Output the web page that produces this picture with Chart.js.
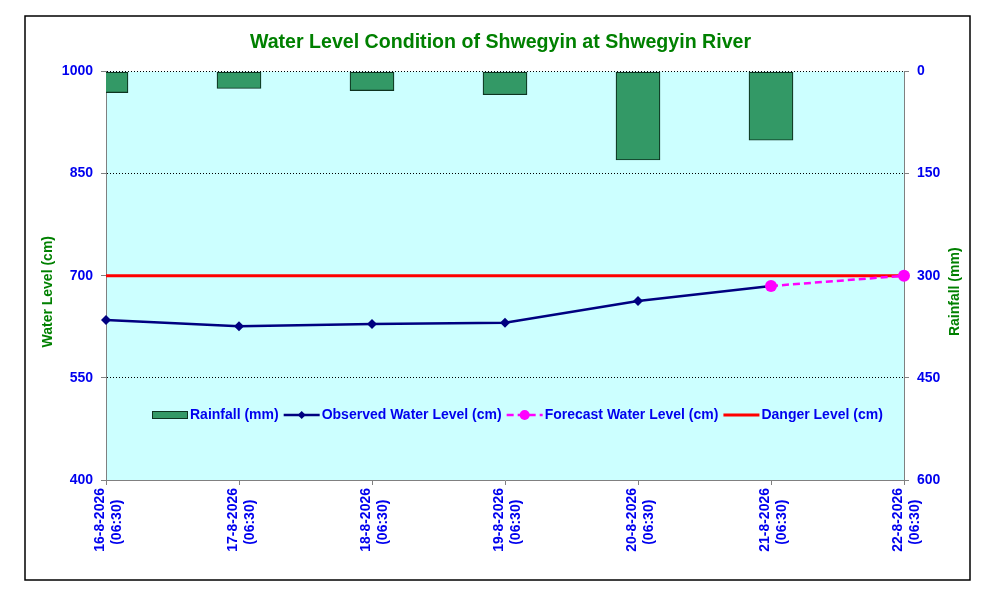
<!DOCTYPE html>
<html>
<head>
<meta charset="utf-8">
<title>Water Level Condition of Shwegyin at Shwegyin River</title>
<script src="https://cdn.jsdelivr.net/npm/chart.js@4.4.1/dist/chart.umd.min.js"></script>
<style>
  html, body { margin: 0; padding: 0; background: #fff; }
  #wrap { width: 989px; height: 590px; position: relative; }
</style>
</head>
<body>
<div id="wrap"><canvas id="levelChart"></canvas></div>
<script>
// data
const dates = ['16-8-2026', '17-8-2026', '18-8-2026', '19-8-2026', '20-8-2026', '21-8-2026', '22-8-2026'];
const obsTime = '(06:30)';
const rainfall = [31, 25, 28, 34, 130, 101, null];
const observedLevel = [635, 626, 629, 631, 663, 685, null];
const forecastLevel = [null, null, null, null, null, 685, 700];
const dangerLevel = [700, 700, 700, 700, 700, 700, 700];
const levelTicks = [400, 550, 700, 850, 1000];
const rainTicks = [0, 150, 300, 450, 600];

const FONT = '"Liberation Sans", Arial, sans-serif';
const BLUE = '#0000ee';
const GREEN = '#008000';

// two line labels, trailing spaces push the time line to the middle of the date
const xLabels = dates.map(d => [d, obsTime + '\u00a0\u00a0\u00a0']);

const background = {
  id: 'background',
  beforeDraw(chart) {
    const { ctx, chartArea: a } = chart;
    ctx.save();
    ctx.fillStyle = '#fff';
    ctx.fillRect(0, 0, chart.width, chart.height);
    ctx.fillStyle = '#ccffff';
    ctx.fillRect(a.left, a.top, a.right - a.left, a.bottom - a.top);
    ctx.strokeStyle = '#000';
    ctx.lineWidth = 1.5;
    ctx.strokeRect(25, 16, chart.width - 44, chart.height - 26);
    ctx.restore();
  }
};

// axis titles both read bottom to top, like the original
const axisTitles = {
  id: 'axisTitles',
  afterDraw(chart) {
    const { ctx, chartArea: a } = chart;
    const midY = (a.top + a.bottom) / 2 + 16;
    ctx.save();
    ctx.font = 'bold 14px ' + FONT;
    ctx.fillStyle = GREEN;
    ctx.textAlign = 'center';
    ctx.textBaseline = 'middle';
    [['Water Level (cm)', a.left - 58], ['Rainfall (mm)', a.right + 51]].forEach(([t, x]) => {
      ctx.save();
      ctx.translate(x, midY);
      ctx.rotate(-Math.PI / 2);
      ctx.fillText(t, 0, 0);
      ctx.restore();
    });
    ctx.restore();
  }
};

// legend sits inside the plot, near the bottom
const innerLegend = {
  id: 'innerLegend',
  afterDatasetsDraw(chart) {
    const { ctx, chartArea: a } = chart;
    const y = a.bottom - 65;
    let x = a.left + 46;
    ctx.save();
    ctx.font = 'bold 14px ' + FONT;
    ctx.textBaseline = 'middle';
    chart.data.datasets.forEach(ds => {
      if (ds.type === 'bar') {
        ctx.fillStyle = ds.backgroundColor;
        ctx.strokeStyle = ds.borderColor;
        ctx.lineWidth = 1;
        ctx.fillRect(x, y - 4, 36, 8);
        ctx.strokeRect(x + 0.5, y - 3.5, 35, 7);
      } else {
        ctx.strokeStyle = ds.borderColor;
        ctx.lineWidth = ds.borderWidth;
        ctx.setLineDash(ds.borderDash || []);
        ctx.beginPath();
        ctx.moveTo(x, y);
        ctx.lineTo(x + 36, y);
        ctx.stroke();
        ctx.setLineDash([]);
        ctx.fillStyle = ds.borderColor;
        if (ds.pointStyle === 'rectRot' && ds.pointRadius) {
          ctx.beginPath();
          ctx.moveTo(x + 18, y - 4);
          ctx.lineTo(x + 22, y);
          ctx.lineTo(x + 18, y + 4);
          ctx.lineTo(x + 14, y);
          ctx.closePath();
          ctx.fill();
        } else if (ds.pointStyle === 'circle' && ds.pointRadius) {
          ctx.beginPath();
          ctx.arc(x + 18, y, 5, 0, Math.PI * 2);
          ctx.fill();
        }
      }
      x += 38;
      ctx.fillStyle = BLUE;
      ctx.fillText(ds.label, x, y);
      x += ctx.measureText(ds.label).width + 5;
    });
    ctx.restore();
  }
};

new Chart(document.getElementById('levelChart').getContext('2d'), {
  data: {
    labels: xLabels,
    datasets: [
      {
        type: 'bar',
        label: 'Rainfall (mm)',
        data: rainfall,
        yAxisID: 'yRain',
        backgroundColor: '#339966',
        borderColor: '#0d3320',
        borderWidth: 1.2,
        borderSkipped: false,
        barThickness: 44,
        clip: 0,
        order: 4
      },
      {
        type: 'line',
        label: 'Observed Water Level (cm)',
        data: observedLevel,
        yAxisID: 'yLevel',
        borderColor: '#000080',
        backgroundColor: '#000080',
        borderWidth: 2.5,
        pointStyle: 'rectRot',
        pointRadius: 5,
        pointBorderWidth: 0,
        clip: false,
        order: 2
      },
      {
        type: 'line',
        label: 'Forecast Water Level (cm)',
        data: forecastLevel,
        yAxisID: 'yLevel',
        borderColor: '#ff00ff',
        backgroundColor: '#ff00ff',
        borderWidth: 2.5,
        borderDash: [7, 4],
        pointStyle: 'circle',
        pointRadius: 6,
        pointBorderWidth: 0,
        clip: false,
        order: 1
      },
      {
        type: 'line',
        label: 'Danger Level (cm)',
        data: dangerLevel,
        yAxisID: 'yLevel',
        borderColor: '#ff0000',
        borderWidth: 3,
        pointRadius: 0,
        clip: false,
        order: 3
      }
    ]
  },
  options: {
    responsive: true,
    maintainAspectRatio: false,
    animation: false,
    layout: { padding: { left: 38, right: 26, top: 0, bottom: 35 } },
    plugins: {
      legend: { display: false },
      tooltip: { enabled: false },
      title: {
        display: true,
        text: 'Water Level Condition of Shwegyin at Shwegyin River',
        color: GREEN,
        font: { family: FONT, size: 19.6, weight: 'bold' },
        padding: { top: 31, bottom: 17 }
      }
    },
    scales: {
      x: {
        offset: false,
        grid: { offset: false, drawOnChartArea: false, tickLength: 5, color: '#808080' },
        border: { color: '#808080' },
        ticks: {
          autoSkip: false,
          maxRotation: 90,
          minRotation: 90,
          padding: 3,
          labelOffset: -6,
          color: BLUE,
          font: { family: FONT, size: 14, weight: 'bold' }
        },
        afterFit(scale) { scale.height = 75; }
      },
      yLevel: {
        position: 'left',
        min: 400,
        max: 1000,
        afterBuildTicks(scale) { scale.ticks = levelTicks.map(v => ({ value: v })); },
        grid: {
          color: ctx => (ctx.tick && ctx.tick.value === 400 ? 'rgba(0,0,0,0)' : '#000'),
          lineWidth: 1,
          tickLength: 5,
          tickColor: '#808080'
        },
        border: { color: '#808080', dash: [1, 2] },
        ticks: {
          padding: 8,
          color: BLUE,
          font: { family: FONT, size: 14, weight: 'bold' },
          callback: v => String(v)
        },
        afterFit(scale) { scale.width = 68; }
      },
      yRain: {
        position: 'right',
        reverse: true,
        min: 0,
        max: 600,
        afterBuildTicks(scale) { scale.ticks = rainTicks.map(v => ({ value: v })); },
        grid: { drawOnChartArea: false, tickLength: 5, color: '#808080' },
        border: { color: '#808080' },
        ticks: {
          padding: 8,
          color: BLUE,
          font: { family: FONT, size: 14, weight: 'bold' },
          callback: v => String(v)
        },
        afterFit(scale) { scale.width = 59; }
      }
    }
  },
  plugins: [background, axisTitles, innerLegend]
});
</script>
</body>
</html>
